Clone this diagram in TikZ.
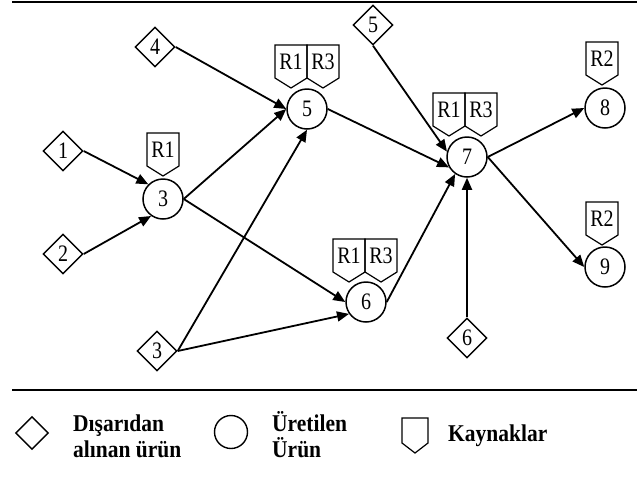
\documentclass[tikz,border=0pt]{standalone}
\usepackage{fontspec}
\setmainfont{Liberation Serif}
\usetikzlibrary{shapes.geometric,arrows.meta}
\newcommand{\talltext}[2][1.18]{\scalebox{1}[#1]{#2}}
\tikzset{
  prod/.style={circle,draw,line width=1.5pt,minimum size=40pt,inner sep=0pt,font=\fontsize{20}{24}\selectfont},
  ext/.style={diamond,draw,line width=1.4pt,minimum width=40pt,minimum height=40pt,inner sep=0pt,font=\fontsize{20}{24}\selectfont},
  flow/.style={line width=1.8pt,-{Triangle[length=12pt,width=10pt]}},
  rule/.style={line width=1.6pt},
  legtext/.style={anchor=base west,inner sep=0pt,font=\fontsize{21.5}{26}\selectfont\bfseries},
  restag/.pic={
    \draw[line width=1.2pt] (-16,-10) -- (0,0) -- (16,-10) -- (16,-43) -- (-16,-43) -- cycle;
    \node[inner sep=0pt,font=\fontsize{20}{24}\selectfont] (-t) at (0,-26) {\talltext{#1}};
  }
}
\begin{document}
\begin{tikzpicture}[x=1pt,y=-1pt]
\useasboundingbox (0,0) rectangle (642,483);
\draw[rule] (12,2) -- (637,2);
\draw[rule] (12,390) -- (637,390);

% produced items
\node[prod] (c3) at (163,199) {\talltext{3}};
\node[prod] (c5) at (307,109) {\talltext{5}};
\node[prod] (c6) at (366,302) {\talltext{6}};
\node[prod] (c7) at (467,157) {\talltext{7}};
\node[prod] (c8) at (605,108) {\talltext{8}};
\node[prod] (c9) at (605,267) {\talltext{9}};

% external items
\node[ext] (d1) at (63,151) {\talltext{1}};
\node[ext] (d2) at (63,254) {\talltext{2}};
\node[ext] (d3) at (157,351) {\talltext{3}};
\node[ext] (d4) at (155,47) {\talltext{4}};
\node[ext] (d5) at (373,25) {\talltext{5}};
\node[ext] (d6) at (467,338) {\talltext{6}};

% resources
\pic (t3) at (163,176) {restag=R1};
\pic (t5a) at (291,88) {restag=R1};
\pic (t5b) at (323,88) {restag=R3};
\pic (t7a) at (449,136) {restag=R1};
\pic (t7b) at (481,136) {restag=R3};
\pic (t8) at (602,85) {restag=R2};
\pic (t9) at (602,245) {restag=R2};
\pic (t6a) at (349,282) {restag=R1};
\pic (t6b) at (381,282) {restag=R3};

% flows
\draw[flow] (d1.east) -- (c3.135);
\draw[flow] (d2.east) -- (c3.235);
\draw[flow] (d4.east) -- (c5.west);
\draw[flow] (c3.east) -- (c5.west);
\draw[flow] (c3.east) -- (c6.west);
\draw[flow] (d3.east) -- (c5.south);
\draw[flow] (d3.east) -- (c6.215);
\draw[flow] (c5.east) -- (c7.210);
\draw[flow] (d5.south) -- (c7.165);
\draw[flow] (c6.east) -- (c7.235);
\draw[flow] (d6.north) -- (c7.south);
\draw[flow] (c7.east) -- (c8.west);
\draw[flow] (c7.east) -- (c9.west);

% legend
\node[diamond,draw,line width=1.4pt,minimum width=33pt,minimum height=33pt,inner sep=0pt] (ld) at (32,433) {};
\node[legtext] (lt1) at (73,431) {\talltext[1.12]{Dışarıdan}};
\node[legtext] (lt2) at (73,457) {\talltext[1.12]{alınan ürün}};
\node[circle,draw,line width=1.4pt,minimum size=33pt,inner sep=0pt] (lc) at (231,432) {};
\node[legtext] (lt3) at (272,431) {\talltext[1.12]{Üretilen}};
\node[legtext] (lt4) at (272,457) {\talltext[1.12]{Ürün}};
\draw[line width=1.2pt] (402,443) -- (415,453) -- (428,443) -- (428,418) -- (402,418) -- cycle;
\node[legtext] (lt5) at (448,441) {\talltext[1.12]{Kaynaklar}};
\end{tikzpicture}
\end{document}
